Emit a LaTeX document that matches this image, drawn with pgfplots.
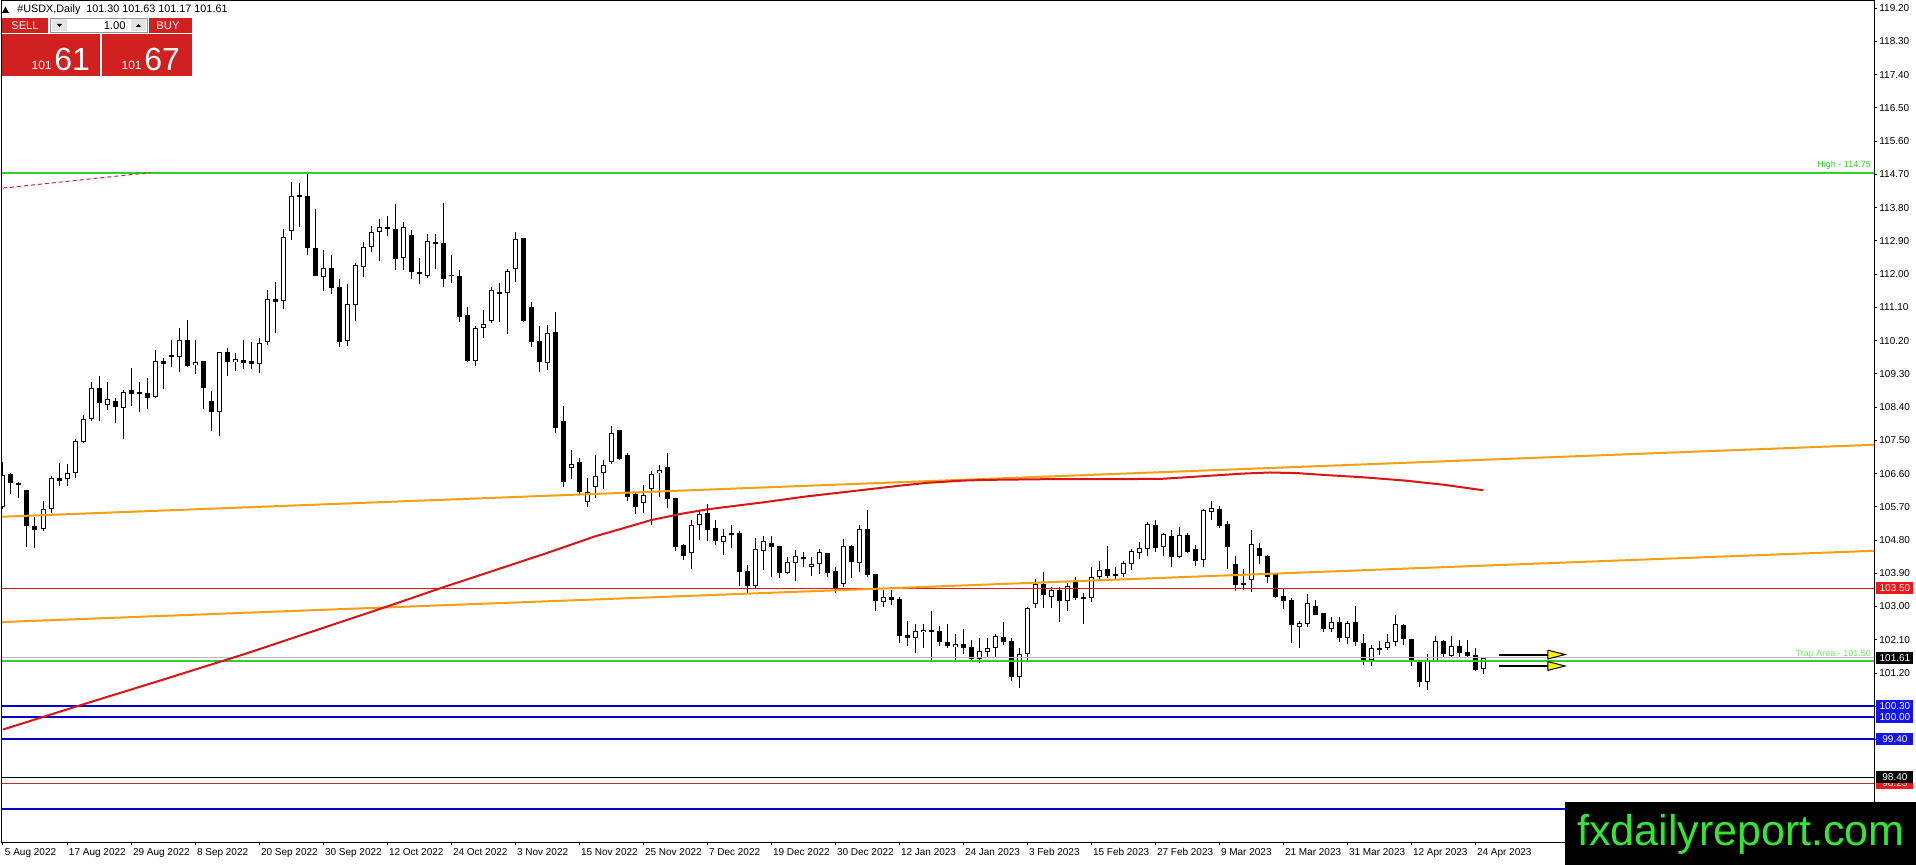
\documentclass[border=0pt]{standalone}
\usepackage{fontspec}
\setmainfont{Liberation Sans}
\usepackage{pgfplots}
\usepackage{pgfplotstable}
\pgfplotsset{compat=1.18}

\definecolor{mtred}{RGB}{220,20,20}
\definecolor{mtorange}{RGB}{245,160,20}
\definecolor{mtgreen}{RGB}{50,205,50}
\definecolor{mtlgreen}{RGB}{110,235,90}
\definecolor{mtblue}{RGB}{0,0,205}
\definecolor{lblblue}{RGB}{20,20,235}
\definecolor{lblred}{RGB}{235,25,25}
\definecolor{panelred}{RGB}{208,32,32}
\definecolor{wmgreen}{RGB}{50,230,50}
\definecolor{dashred}{RGB}{200,40,50}
\newcommand\sz[1]{\fontsize{#1}{#1}\selectfont}

\pgfplotstableread{
n o h l c
0 105.70 106.92 105.65 106.56
1 106.59 106.62 106.06 106.34
2 106.35 106.38 105.93 106.28
3 106.15 106.15 104.60 105.19
4 105.18 105.43 104.59 105.07
5 105.09 105.87 105.05 105.63
6 105.63 106.53 105.52 106.47
7 106.47 106.90 106.27 106.41
8 106.44 106.86 106.27 106.61
9 106.63 107.53 106.47 107.48
10 107.46 108.18 107.44 108.07
11 108.07 109.09 108.03 108.93
12 108.93 109.24 108.03 108.50
13 108.47 109.09 108.32 108.61
14 108.56 108.66 107.96 108.39
15 108.39 108.86 107.55 108.80
16 108.86 109.45 108.44 108.75
17 108.75 109.09 108.26 108.80
18 108.77 109.18 108.34 108.64
19 108.68 109.96 108.66 109.64
20 109.66 109.72 108.89 109.58
21 109.81 110.23 109.49 109.77
22 109.77 110.53 109.34 110.21
23 110.21 110.76 109.49 109.52
24 109.54 110.22 109.29 109.62
25 109.65 109.65 108.34 108.93
26 108.56 108.83 107.76 108.28
27 108.28 109.90 107.62 109.88
28 109.90 109.99 109.25 109.61
29 109.61 109.87 109.39 109.69
30 109.69 110.23 109.43 109.60
31 109.65 110.17 109.43 109.56
32 109.56 110.26 109.33 110.15
33 110.17 111.57 110.08 111.34
34 111.33 111.78 110.42 111.25
35 111.27 113.21 111.05 113.00
36 113.17 114.50 112.92 114.12
37 114.10 114.46 113.29 114.15
38 114.12 114.75 112.52 112.70
39 112.70 113.77 111.96 111.96
40 111.92 112.66 111.55 112.16
41 112.16 112.52 111.46 111.62
42 111.64 111.87 110.02 110.16
43 110.19 111.73 110.06 111.18
44 111.16 112.29 110.74 112.24
45 112.20 112.88 111.91 112.73
46 112.75 113.31 112.59 113.15
47 113.13 113.49 112.37 113.27
48 113.27 113.58 113.02 113.23
49 113.22 113.90 112.11 112.41
50 112.43 113.40 112.11 113.27
51 113.06 113.20 111.87 112.07
52 112.06 112.43 111.73 112.00
53 111.96 113.09 111.89 112.89
54 112.86 113.09 112.14 112.81
55 112.84 113.92 111.66 111.86
56 111.98 112.52 111.77 111.96
57 111.96 112.11 110.71 110.85
58 110.89 111.10 109.63 109.66
59 109.66 110.60 109.50 110.53
60 110.53 111.03 110.26 110.64
61 110.74 111.64 110.67 111.57
62 111.51 111.75 110.70 111.47
63 111.48 112.14 110.38 112.09
64 112.15 113.15 111.80 112.94
65 112.97 112.97 110.70 110.74
66 111.10 111.24 110.02 110.16
67 110.19 110.60 109.34 109.61
68 109.59 110.62 109.41 110.40
69 110.43 110.97 107.69 107.83
70 108.03 108.43 106.25 106.38
71 106.74 107.24 106.45 106.85
72 106.91 107.01 106.05 106.09
73 105.84 106.47 105.69 106.11
74 106.25 107.10 105.93 106.54
75 106.63 106.98 106.18 106.83
76 106.92 107.90 106.85 107.69
77 107.78 107.78 106.97 106.99
78 107.10 107.16 105.87 105.97
79 106.05 106.11 105.50 105.70
80 105.81 106.29 105.54 106.02
81 106.18 106.67 105.21 106.59
82 106.61 106.83 105.96 106.70
83 106.77 107.15 105.66 105.90
84 105.93 105.93 104.51 104.60
85 104.66 104.70 104.26 104.38
86 104.46 105.34 104.01 105.21
87 105.22 105.59 104.80 105.50
88 105.52 105.77 104.77 105.07
89 105.12 105.34 104.66 104.78
90 104.76 105.09 104.39 104.91
91 104.98 105.21 104.59 104.94
92 104.98 105.05 103.55 103.94
93 103.96 104.12 103.37 103.56
94 103.56 104.85 103.49 104.55
95 104.51 104.91 103.99 104.78
96 104.71 104.91 103.79 104.62
97 104.64 104.64 103.76 103.92
98 103.92 104.35 103.87 104.21
99 104.19 104.53 103.70 104.37
100 104.35 104.48 104.08 104.28
101 104.08 104.35 103.83 104.15
102 104.14 104.55 103.88 104.47
103 104.44 104.44 103.81 103.92
104 103.96 104.08 103.36 103.51
105 103.61 104.82 103.54 104.64
106 104.65 104.66 103.78 104.21
107 104.17 105.22 103.94 105.10
108 105.10 105.61 103.81 103.85
109 103.88 103.88 102.89 103.16
110 103.13 103.45 102.98 103.25
111 103.25 103.45 103.04 103.18
112 103.21 103.25 102.01 102.19
113 102.23 102.61 101.92 102.14
114 102.14 102.52 101.74 102.34
115 102.30 102.52 101.89 102.37
116 102.36 102.88 101.51 102.32
117 102.34 102.46 101.94 102.03
118 102.03 102.52 101.89 101.94
119 101.90 102.26 101.53 101.99
120 101.99 102.40 101.71 101.87
121 101.90 102.10 101.53 101.58
122 101.58 102.14 101.47 101.80
123 101.78 102.14 101.62 101.87
124 101.89 102.26 101.62 102.21
125 102.17 102.58 101.96 102.05
126 102.07 102.14 100.99 101.10
127 101.09 101.87 100.79 101.71
128 101.71 103.00 101.56 102.96
129 103.06 103.74 102.96 103.61
130 103.61 103.93 102.96 103.30
131 103.27 103.54 102.96 103.45
132 103.45 103.52 102.59 103.16
133 103.14 103.63 102.87 103.56
134 103.66 103.79 103.18 103.24
135 103.25 103.36 102.53 103.22
136 103.23 104.07 103.11 103.81
137 103.79 104.22 103.70 103.99
138 104.01 104.64 103.77 103.83
139 103.88 104.07 103.72 103.84
140 103.88 104.22 103.80 104.17
141 104.16 104.55 103.98 104.51
142 104.46 104.74 104.28 104.58
143 104.55 105.28 104.37 105.24
144 105.21 105.35 104.49 104.58
145 104.61 104.99 104.38 104.97
146 104.91 105.08 104.06 104.35
147 104.34 105.15 104.31 104.94
148 104.94 104.99 104.44 104.49
149 104.56 104.67 104.11 104.22
150 104.25 105.64 104.07 105.62
151 105.55 105.87 105.33 105.66
152 105.64 105.71 105.12 105.19
153 105.23 105.32 104.01 104.60
154 104.15 104.37 103.43 103.59
155 103.62 104.01 103.45 103.61
156 103.71 105.08 103.39 104.69
157 104.58 104.73 104.15 104.38
158 104.37 104.40 103.65 103.81
159 103.88 103.88 103.23 103.25
160 103.29 103.48 102.94 103.16
161 103.18 103.23 102.01 102.49
162 102.46 102.62 101.87 102.55
163 102.53 103.33 102.44 103.09
164 103.02 103.18 102.78 102.78
165 102.82 102.82 102.32 102.39
166 102.39 102.73 102.32 102.59
167 102.59 102.73 102.03 102.14
168 102.14 102.62 101.99 102.55
169 102.59 103.02 101.92 102.03
170 102.01 102.26 101.42 101.54
171 101.56 101.96 101.38 101.87
172 101.87 102.08 101.69 101.83
173 101.87 102.26 101.83 102.05
174 102.04 102.77 101.94 102.52
175 102.50 102.53 101.96 102.12
176 102.12 102.12 101.39 101.53
177 101.53 101.56 100.82 100.97
178 100.95 101.72 100.73 101.53
179 101.53 102.21 101.51 102.07
180 102.07 102.10 101.60 101.71
181 101.67 102.21 101.60 101.92
182 101.92 102.10 101.60 101.74
183 101.78 102.10 101.60 101.66
184 101.69 101.87 101.27 101.29
185 101.30 101.63 101.17 101.61
}\candles

\pgfplotstableread{
n p
0 99.67
10 100.35
20 101.02
30 101.70
40 102.42
48 103.00
55 103.52
62 104.02
68 104.45
74 104.90
78 105.15
81 105.34
85 105.52
88 105.63
92 105.74
95 105.82
100 105.97
104 106.07
108 106.17
112 106.27
115.5 106.35
120 106.41
123 106.43
131 106.45
140 106.45
145 106.46
150 106.53
155 106.60
158.4 106.63
162 106.61
165.3 106.56
170 106.50
175.3 106.41
180 106.30
185 106.15
}\ma

\begin{document}
\begin{tikzpicture}
\useasboundingbox (0,0) rectangle (958pt,-432.5pt);
\begin{axis}[
  at={(1pt,-0.5pt)}, anchor=north west,
  scale only axis, width=936pt, height=420.5pt,
  xmin=-0.125, xmax=233.875, ymin=96.624, ymax=119.397,
  clip mode=individual,
  axis line style={black, line width=0.5pt},
  tick align=outside, major tick length=1.5pt,
  tick style={black, line width=0.5pt},
  ytick pos=right, yticklabel pos=right,
  ytick={99.4,100.3,101.2,102.1,103.0,103.9,104.8,105.7,106.6,107.5,108.4,109.3,110.2,111.1,112.0,112.9,113.8,114.7,115.6,116.5,117.4,118.3,119.2},
  yticklabel style={font=\sz{5}, anchor=west, inner sep=0pt, xshift=1pt,
     /pgf/number format/fixed, /pgf/number format/fixed zerofill,
     /pgf/number format/precision=2, /pgf/number format/assume math mode=true},
  xtick pos=left,
  xtick={0,8,...,184},
  xticklabels={5 Aug 2022,17 Aug 2022,29 Aug 2022,8 Sep 2022,20 Sep 2022,30 Sep 2022,12 Oct 2022,24 Oct 2022,3 Nov 2022,15 Nov 2022,25 Nov 2022,7 Dec 2022,19 Dec 2022,30 Dec 2022,12 Jan 2023,24 Jan 2023,3 Feb 2023,15 Feb 2023,27 Feb 2023,9 Mar 2023,21 Mar 2023,31 Mar 2023,12 Apr 2023,24 Apr 2023},
  xticklabel style={font=\sz{5}, anchor=north west, inner sep=0pt, xshift=0.8pt, yshift=-1.5pt},
  candle/.style={draw=none, mark=none, error bars/.cd, y dir=both, y explicit, error mark=none},
]
% wicks
\addplot[candle, error bar style={draw=black, line width=0.5pt, line cap=butt, solid}]
  table[x=n, y=c, y error plus expr=\thisrow{h}-\thisrow{c}, y error minus expr=\thisrow{c}-\thisrow{l}] {\candles};
% bodies (black)
\addplot[candle, error bar style={draw=black, line width=2.5pt, line cap=butt, solid}]
  table[x=n, y expr=(\thisrow{o}+\thisrow{c})/2, y error expr={max(abs(\thisrow{c}-\thisrow{o})/2,0.0135)}] {\candles};
% bodies (white inner for rising bars)
\addplot[candle, error bar style={draw=white, line width=1.5pt, line cap=butt, solid}]
  table[x=n, y expr=(\thisrow{o}+\thisrow{c})/2, y error expr={(\thisrow{c}>\thisrow{o})*max((\thisrow{c}-\thisrow{o})/2-0.027,0)}] {\candles};

% horizontal levels
\addplot[color={rgb,255:red,190;green,190;blue,190}, line width=0.5pt] coordinates {(-0.125,101.61) (233.875,101.61)};
\addplot[mtgreen, line width=1pt] coordinates {(-0.125,114.75) (233.875,114.75)};
\addplot[mtgreen, line width=1.1pt] coordinates {(-0.125,101.52) (233.875,101.52)};
\addplot[mtred, line width=0.5pt] coordinates {(-0.125,103.50) (233.875,103.50)};
\addplot[mtblue, line width=1pt] coordinates {(-0.125,100.30) (233.875,100.30)};
\addplot[mtblue, line width=1pt] coordinates {(-0.125,100.00) (233.875,100.00)};
\addplot[mtblue, line width=1pt] coordinates {(-0.125,99.40) (233.875,99.40)};
\addplot[black, line width=0.5pt] coordinates {(-0.125,98.37) (233.875,98.37)};
\addplot[color={rgb,255:red,200;green,40;blue,40}, line width=0.5pt] coordinates {(-0.125,98.22) (233.875,98.22)};
\addplot[mtblue, line width=1pt] coordinates {(-0.125,97.52) (233.875,97.52)};

% trend lines
\addplot[mtorange, line width=1pt] coordinates {(-0.125,105.432) (233.875,107.38)};
\addplot[mtorange, line width=1pt] coordinates {(-0.125,102.58) (233.875,104.51)};
\addplot[dashred, line width=0.5pt, dash pattern=on 2pt off 1.5pt] coordinates {(0,114.33) (18.4,114.75)};

% moving average
\addplot[mtred, line width=1pt] table[x=n, y=p] {\ma};

% arrows
\addplot[black, line width=1pt] coordinates {(187,101.70) (193.3,101.70)};
\addplot[black, line width=1pt] coordinates {(187,101.39) (193.3,101.39)};
\addplot[fill=yellow, draw=black, line width=0.5pt] coordinates {(193.1,101.82) (195.25,101.70) (193.1,101.58) (193.1,101.82)};
\addplot[fill=yellow, draw=black, line width=0.5pt] coordinates {(193.1,101.51) (195.25,101.39) (193.1,101.27) (193.1,101.51)};

% line texts
\node[anchor=south east, inner sep=0.3pt, text=mtgreen, font=\sz{4.5}] at (axis cs:233.6,114.80) {High - 114.75};
\node[anchor=south east, inner sep=0.3pt, text=mtlgreen, font=\sz{4.5}] at (axis cs:233.6,101.56) {Trap Area - 101.50};

% price labels on the right scale
\tikzset{plbl/.style={anchor=west, inner sep=0pt, minimum width=18.5pt, minimum height=6pt, text=white, font=\sz{5}}}
\node[plbl, fill=lblred] at ([xshift=1pt]axis cs:233.875,98.22) {98.23};
\node[plbl, fill=black] at ([xshift=1pt]axis cs:233.875,98.39) {98.40};
\node[plbl, fill=lblblue] at ([xshift=1pt]axis cs:233.875,99.40) {99.40};
\node[plbl, fill=lblblue] at ([xshift=1pt]axis cs:233.875,100.00) {100.00};
\node[plbl, fill=lblblue] at ([xshift=1pt]axis cs:233.875,100.30) {100.30};
\node[plbl, fill=black] at ([xshift=1pt]axis cs:233.875,101.61) {101.61};
\node[plbl, fill=lblred] at ([xshift=1pt]axis cs:233.875,103.50) {103.50};
\end{axis}

% header, trading panel and watermark (pixel coordinates, y downwards)
\begin{scope}[x=0.5pt, y=-0.5pt]
  \fill[black] (2,13) -- (5.5,6.5) -- (9,13) -- cycle;
  \node[anchor=west, inner sep=0pt, font=\sz{5.4}] at (17,9.5) {\#USDX,Daily\ \ 101.30 101.63 101.17 101.61};
  % SELL / BUY
  \fill[panelred] (2,18) rectangle (48,33.5);
  \node[text=white, font=\sz{5.6}] at (25,26) {SELL};
  \draw[color={rgb,255:red,150;green,150;blue,150}, fill=white, line width=0.5pt] (50,18.5) rectangle (147,32.5);
  \fill[color={rgb,255:red,228;green,228;blue,228}] (51.5,19.5) rectangle (67,31.5);
  \fill[color={rgb,255:red,228;green,228;blue,228}] (131,19.5) rectangle (146,31.5);
  \fill[black] (57,24) -- (62,24) -- (59.5,27) -- cycle;
  \fill[black] (136,27) -- (141,27) -- (138.5,24) -- cycle;
  \node[anchor=east, inner sep=0pt, font=\sz{5.6}] at (126,25.5) {1.00};
  \fill[panelred] (149,18) rectangle (192,33.5);
  \node[text=white, font=\sz{5.6}] at (168,26) {BUY};
  \fill[panelred] (2,34.5) rectangle (100,76);
  \fill[panelred] (102,34.5) rectangle (192,76);
  \node[anchor=base east, inner sep=0pt, text=white, font=\sz{6}] at (52,70) {101};
  \node[anchor=base west, inner sep=0pt, text=white, font=\sz{16}] at (54,71) {61};
  \node[anchor=base east, inner sep=0pt, text=white, font=\sz{6}] at (142,70) {101};
  \node[anchor=base west, inner sep=0pt, text=white, font=\sz{16}] at (144,71) {67};
  % watermark
  \fill[black] (1565,802) rectangle (1916,866);
  \node[text=wmgreen, font=\sz{21.5}, inner sep=0pt] at (1741,834) {fxdailyreport.com};
\end{scope}
\end{tikzpicture}
\end{document}
